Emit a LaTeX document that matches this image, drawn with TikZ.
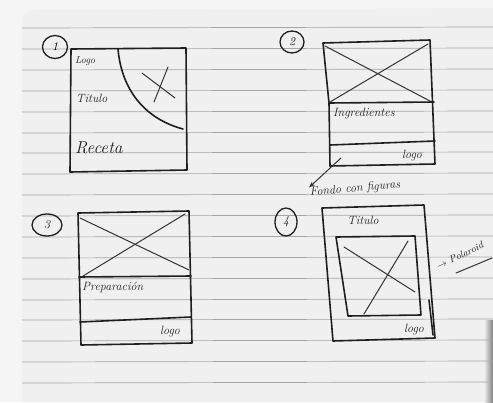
\documentclass[tikz,border=0pt]{standalone}
\usetikzlibrary{arrows.meta,shapes.geometric}
\begin{document}
\begin{tikzpicture}[x=1pt,y=-1pt,
  pen/.style={line width=1.6pt, black!88, line cap=round, line join=round},
  thinpen/.style={line width=1pt, black!80, line cap=round},
  rule/.style={line width=0.7pt, black!35},
  hand/.style={font=\itshape\large, inner sep=0pt, text=black!88},
  num/.style={draw=black!88, line width=1.3pt, ellipse, inner sep=1pt, minimum width=24pt, minimum height=22pt, font=\itshape\large}]
\useasboundingbox (0,0) rectangle (493,402);
% paper
\fill[black!4] (0,0) rectangle (493,402);
\fill[black!6] (22,402) -- (22,22) to[out=90,in=180] (36,10) -- (493,8) -- (493,402) -- cycle;
\shade[left color=black!6, right color=black!50] (484,320) rectangle (493,402);
\foreach \y in {28,49,70,91,112,133,153,174,195,216,237,258,279,300,320,341,362,383}
  \draw[rule] (22,\y) -- (493,\y-1);

% ---------- sketch 1 ----------
\node[num, minimum width=25pt, minimum height=23pt] (n1) at (55,47) {1};
\draw[pen] (71,49) -- (186,48) -- (187,170) -- (70,172) -- cycle;
\draw[pen] (118,49) to[out=-85,in=165] (183,129);
\draw[thinpen] (142,73) -- (175,98);
\draw[thinpen] (168,67) -- (154,102);
\node[hand, anchor=west, font=\itshape\normalsize] (logo1) at (75,61) {Logo};
\node[hand, anchor=west] (tit1) at (76,98) {Titulo};
\node[hand, anchor=west, font=\itshape\LARGE] (rec1) at (75,148) {Receta};

% ---------- sketch 2 ----------
\node[num] (n2) at (292,42) {2};
\draw[pen] (323,43) -- (430,40) -- (435,164) -- (330,166) -- (329,103) -- cycle;
\draw[pen] (329,103) -- (434,102);
\draw[pen] (330,145) -- (435,141);
\draw[thinpen] (325,46) -- (430,101);
\draw[thinpen] (330,102) -- (428,44);
\node[hand, anchor=west] (ing2) at (333,114) {Ingredientes};
\node[hand] (logo2) at (412,156) {logo};
\node[hand, rotate=5] (fondo2) at (355,189) {Fondo con figuras};
\coordinate (arr2) at (341,158);
\draw[thinpen, -{Stealth[length=6pt]}] (arr2) -- (fondo2.north west);

% ---------- sketch 3 ----------
\node[num, minimum width=30pt, minimum height=22pt] (n3) at (47,225) {3};
\draw[pen] (78,213) -- (189,211) -- (192,343) -- (81,345) -- cycle;
\draw[pen] (79,277) -- (191,276);
\draw[pen] (80,322) -- (191,317);
\draw[thinpen] (80,218) -- (189,270);
\draw[thinpen] (83,276) -- (185,214);
\node[hand, anchor=west] (prep3) at (82,287) {Preparación};
\node[hand] (logo3) at (170,332) {logo};

% ---------- sketch 4 ----------
\node[num, minimum width=22pt, minimum height=28pt] (n4) at (286,222) {4};
\draw[pen] (322,208) -- (424,205) -- (435,338) -- (333,341) -- cycle;
\draw[pen] (429,300) -- (433,335);
\draw[pen] (336,237) -- (415,236) -- (421,315) -- (348,316) -- cycle;
\draw[thinpen] (344,247) -- (415,292);
\draw[thinpen] (408,241) -- (364,314);
\node[hand] (tit4) at (363,220) {Titulo};
\node[hand] (logo4) at (414,330) {logo};
\node[hand, font=\itshape\normalsize, rotate=25, anchor=west] (pol4) at (437,266) {$\to$ Polaroid};
\draw[thinpen] (456,273) -- (492,258);
\end{tikzpicture}
\end{document}
